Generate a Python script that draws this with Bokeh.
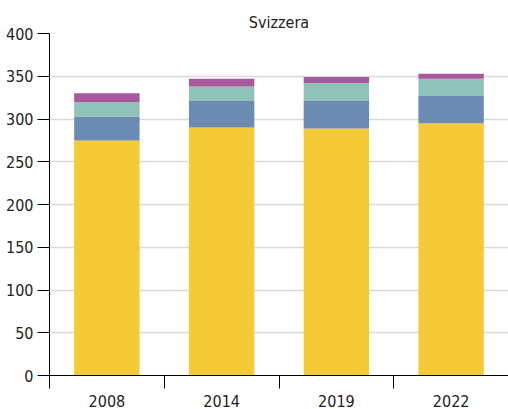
from bokeh.plotting import figure
from bokeh.models import FixedTicker, ColumnDataSource, Range1d
from bokeh.embed import file_html
from bokeh.resources import INLINE

years = ["2008", "2014", "2019", "2022"]
s1 = [275, 290, 289, 295]
s2 = [28, 31, 32, 32]
s3 = [17, 17, 21, 20]
s4 = [10, 9, 7, 6]
y_ticks = [0, 50, 100, 150, 200, 250, 300, 350, 400]
colors = ["#F5CA37", "#6C8BB2", "#8FC2B8", "#A8589E"]
title = "Svizzera"

FONT = "DejaVu Sans Condensed"
TXT = "#222222"

xpos = [i + 0.5 for i in range(len(years))]
bounds = [float(i) for i in range(len(years) + 1)]
source = ColumnDataSource(dict(x=xpos, s1=s1, s2=s2, s3=s3, s4=s4))

p = figure(width=508, height=409, x_range=Range1d(0, len(years)), y_range=Range1d(0, 400),
           output_backend="svg", toolbar_location=None,
           min_border_left=49, min_border_right=0, min_border_top=33, min_border_bottom=34)
p.vbar_stack(["s1", "s2", "s3", "s4"], x="x", width=0.57, color=colors, line_color=None, source=source)

p.title.text = title
p.title.align = "center"
p.title.text_font = FONT
p.title.text_font_size = "16px"
p.title.text_font_style = "normal"
p.title.text_color = TXT
p.title.standoff = 4

p.outline_line_color = None
p.background_fill_color = "white"
p.xgrid.grid_line_color = None
p.ygrid.grid_line_color = "#d9d9d9"
p.ygrid.grid_line_width = 1.5

ya = p.yaxis[0]
ya.ticker = FixedTicker(ticks=y_ticks)
ya.major_tick_out = 12
ya.major_tick_in = 0
ya.minor_tick_line_color = None
ya.major_label_standoff = 4
ya.major_label_text_font = FONT
ya.major_label_text_font_size = "16px"
ya.major_label_text_color = TXT
ya.axis_line_color = "black"
ya.major_tick_line_color = "black"

xa = p.xaxis[0]
xa.ticker = FixedTicker(ticks=xpos, minor_ticks=bounds)
xa.major_label_overrides = {x: y for x, y in zip(xpos, years)}
xa.major_tick_line_color = None
xa.major_tick_out = 0
xa.major_tick_in = 0
xa.minor_tick_out = 13
xa.minor_tick_in = 0
xa.minor_tick_line_color = "black"
xa.major_label_standoff = 6
xa.major_label_text_font = FONT
xa.major_label_text_font_size = "16px"
xa.major_label_text_color = TXT
xa.axis_line_color = "black"

open("out.html", "w").write(file_html(p, INLINE))
